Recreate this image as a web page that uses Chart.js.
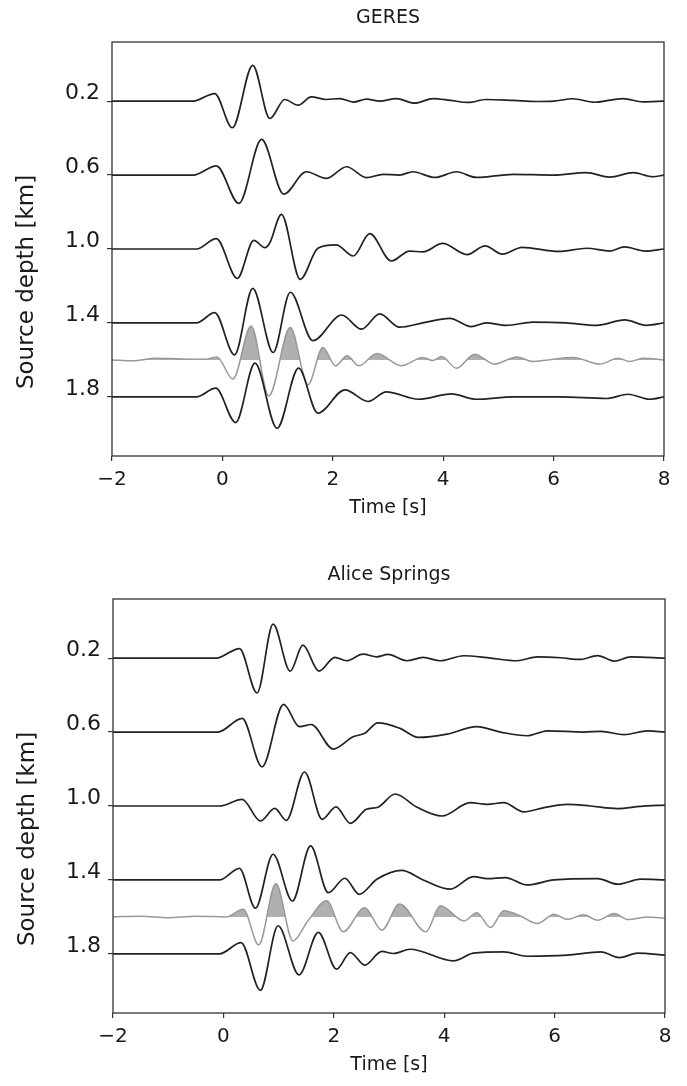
<!DOCTYPE html>
<html>
<head>
<meta charset="utf-8">
<script src="https://cdn.jsdelivr.net/npm/chart.js@4.4.0/dist/chart.umd.min.js"></script>
<style>
  body { margin: 0; background: #fff; }
  canvas { position: absolute; }
</style>
</head>
<body>
<canvas id="geres-chart" width="687" height="529" style="left:0;top:0;width:687px;height:529px"></canvas>
<canvas id="alice-chart" width="687" height="529" style="left:1px;top:557px;width:687px;height:529px"></canvas>
<script>
// tick labels
const depthTicks = [0.2, 0.6, 1.0, 1.4, 1.8];
const timeTicks = [-2, 0, 2, 4, 6, 8];

// each trace: [time s, amplitude] pairs, amplitude in km above the trace depth
// GERES
const geres02 = [[-2,0],[-0.53,0],[-0.14,0.041],[0.18,-0.144],[0.55,0.194],[0.86,-0.094],[1.13,0.009],[1.37,-0.022],[1.61,0.023],[1.88,0.009],[2.13,0.014],[2.37,-0.005],[2.61,0.011],[2.85,0],[3.15,0.014],[3.48,-0.011],[3.82,0.014],[4.13,0.004],[4.45,-0.007],[4.78,0.009],[5.27,0.004],[5.69,-0.002],[6.0,0],[6.35,0.013],[6.74,-0.006],[7.26,0.014],[7.62,-0.004],[8,0]];
const geres06 = [[-2,0],[-0.53,0],[-0.11,0.050],[0.30,-0.153],[0.71,0.193],[1.11,-0.103],[1.52,0.018],[1.88,-0.018],[2.25,0.045],[2.61,-0.014],[2.91,0.004],[3.21,0],[3.45,0.018],[3.85,-0.013],[4.24,0.018],[4.60,-0.013],[5.27,0.004],[5.99,0],[6.59,0.013],[7.02,-0.011],[7.44,0.013],[7.80,-0.009],[8,0]];
const geres10 = [[-2,0],[-0.47,0],[-0.11,0.056],[0.27,-0.159],[0.57,0.047],[0.77,0.007],[0.86,0.034],[1.07,0.187],[1.41,-0.164],[1.73,0.004],[2.06,0.022],[2.37,-0.038],[2.67,0.083],[3.06,-0.065],[3.39,-0.011],[3.63,-0.016],[3.99,0.030],[4.43,-0.030],[4.76,0.017],[5.07,-0.028],[5.43,0.009],[6.09,-0.013],[6.6,0.004],[7.02,-0.011],[7.28,0.011],[7.66,-0.011],[8,0]];
const geres14 = [[-2,0],[-0.47,0],[-0.14,0.056],[0.22,-0.173],[0.55,0.187],[0.92,-0.160],[1.23,0.166],[1.64,-0.096],[2.16,0.043],[2.52,-0.034],[2.85,0.049],[3.21,-0.023],[3.63,0],[4.12,0.025],[4.51,-0.020],[4.78,0],[5.14,-0.013],[5.63,0.004],[6.23,0],[6.78,-0.013],[7.29,0.016],[7.68,-0.013],[8,0]];
const geres16 = [[-2,0],[-1.62,-0.005],[-1.2,0.009],[-0.75,0.005],[-0.29,0.004],[-0.10,0.016],[0.19,-0.104],[0.52,0.184],[0.84,-0.195],[1.23,0.175],[1.55,-0.135],[1.82,0.067],[2.05,-0.032],[2.26,0.022],[2.47,-0.032],[2.80,0.034],[3.24,-0.032],[3.63,0.013],[3.81,-0.003],[3.97,0.018],[4.24,-0.045],[4.57,0.031],[4.93,-0.023],[5.33,0.016],[5.63,-0.009],[5.90,0],[6.35,0.013],[6.84,-0.023],[7.17,0.009],[7.38,-0.009],[7.62,0.009],[8,0]];
const geres18 = [[-2,0],[-0.47,0],[-0.12,0.047],[0.24,-0.139],[0.59,0.182],[0.99,-0.170],[1.38,0.155],[1.73,-0.088],[2.22,0.038],[2.64,-0.025],[2.97,0.027],[3.55,-0.013],[4.15,0.016],[4.60,-0.013],[5.27,0],[6.11,0],[6.96,-0.009],[7.35,0.014],[7.74,-0.013],[8,0]];

// Alice Springs
const alice02 = [[-2,0],[-0.13,0],[0.29,0.052],[0.61,-0.188],[0.90,0.184],[1.21,-0.070],[1.44,0.070],[1.73,-0.070],[2.02,0.004],[2.23,-0.014],[2.53,0.022],[2.78,0.007],[2.98,0.020],[3.32,-0.014],[3.62,0.004],[3.93,-0.014],[4.35,0.013],[4.84,0],[5.32,-0.014],[5.69,0.007],[6.11,0.002],[6.47,-0.007],[6.78,0.014],[7.08,-0.016],[7.38,0.007],[8,0]];
const alice06 = [[-2,0],[-0.10,0],[0.34,0.074],[0.70,-0.188],[1.09,0.150],[1.38,0.029],[1.59,0.041],[1.99,-0.092],[2.35,-0.025],[2.56,-0.007],[2.80,0.050],[3.2,0.020],[3.53,-0.029],[4.05,-0.011],[4.59,0.029],[5.02,0],[5.50,-0.020],[5.87,0.007],[6.53,0],[6.84,0.004],[7.26,-0.014],[7.69,0.007],[8,0]];
const alice10 = [[-2,0],[-0.07,0],[0.34,0.036],[0.67,-0.081],[0.93,-0.013],[1.14,-0.078],[1.47,0.184],[1.79,-0.072],[2.04,-0.005],[2.30,-0.094],[2.59,-0.018],[2.81,-0.005],[3.11,0.065],[3.50,-0.005],[3.96,-0.054],[4.47,0.018],[4.78,0.009],[5.08,0.018],[5.44,-0.032],[5.81,-0.009],[6.23,0.009],[6.65,0],[7.14,-0.014],[7.56,-0.002],[8,0.005]];
const alice14 = [[-2,0],[-0.07,0],[0.29,0.063],[0.58,-0.153],[0.90,0.139],[1.25,-0.114],[1.58,0.184],[1.90,-0.069],[2.20,0.009],[2.46,-0.078],[2.78,0.004],[3.23,0.052],[3.62,0],[4.11,-0.050],[4.53,0.018],[4.78,0.007],[5.11,0.013],[5.50,-0.027],[5.99,0],[6.78,0.007],[7.14,-0.023],[7.56,0.004],[8,0]];
const alice16 = [[-2,0],[-1.5,0.004],[-1.0,-0.004],[-0.5,0.003],[0.05,0],[0.36,0.041],[0.64,-0.152],[0.95,0.181],[1.26,-0.130],[1.53,-0.022],[1.87,0.087],[2.17,-0.080],[2.56,0.050],[2.87,-0.072],[3.19,0.070],[3.67,-0.081],[3.93,0.060],[4.36,-0.022],[4.59,0.023],[4.84,-0.058],[5.08,0.033],[5.38,0.005],[5.69,-0.036],[5.99,0.014],[6.23,-0.013],[6.53,0.011],[6.78,-0.018],[7.08,0.018],[7.33,-0.014],[7.69,0],[8,-0.007]];
const alice18 = [[-2,0],[-0.07,0],[0.32,0.061],[0.67,-0.197],[0.99,0.152],[1.37,-0.114],[1.72,0.116],[2.05,-0.083],[2.30,0.007],[2.56,-0.061],[2.87,0.013],[3.08,0.002],[3.38,0.025],[4.17,-0.038],[4.53,0.004],[5.08,0.011],[5.50,-0.013],[6.23,-0.007],[6.84,0.011],[7.17,-0.020],[7.51,0.004],[8,-0.007]];

const refDepth = 1.6;

Chart.defaults.font.family = "'DejaVu Sans', sans-serif";
Chart.defaults.color = '#1a1a1a';

function trace(pairs, depth, isRef) {
    return {
        data: pairs.map(p => ({ x: p[0], y: depth - p[1] })),
        borderColor: isRef ? '#999' : '#222',
        backgroundColor: '#b0b0b0',
        borderWidth: isRef ? 1.5 : 1.7,
        pointRadius: 0,
        cubicInterpolationMode: 'monotone',
        fill: isRef ? { target: { value: depth }, above: '#b0b0b0', below: 'rgba(0,0,0,0)' } : false
    };
}

// frame round the plot and the rotated y label
const framePlugin = {
    id: 'frame',
    afterDraw(chart) {
        const { ctx, chartArea: a } = chart;
        ctx.save();
        ctx.strokeStyle = '#333';
        ctx.lineWidth = 1.3;
        ctx.strokeRect(a.left, a.top, a.right - a.left, a.bottom - a.top);
        ctx.fillStyle = '#1a1a1a';
        ctx.font = "23px 'DejaVu Sans'";
        ctx.translate(27, (a.top + a.bottom) / 2 + 33);
        ctx.rotate(-Math.PI / 2);
        ctx.textAlign = 'center';
        ctx.textBaseline = 'middle';
        ctx.fillText('Source depth [km]', 0, 0);
        ctx.restore();
    }
};

function buildConfig(name, lines, ref) {
    const datasets = lines.map((pairs, i) => trace(pairs, depthTicks[i], false));
    datasets.push(trace(ref, refDepth, true));
    return {
        type: 'line',
        data: { datasets: datasets },
        plugins: [framePlugin],
        options: {
            responsive: false,
            animation: false,
            layout: { padding: { left: 0, right: 23, top: 0, bottom: 0 } },
            plugins: {
                legend: { display: false },
                tooltip: { enabled: false },
                title: {
                    display: true,
                    fullSize: false,
                    text: name,
                    font: { size: 19, weight: 'normal' },
                    padding: { top: 6.6, bottom: 12.6 }
                }
            },
            scales: {
                x: {
                    type: 'linear',
                    min: -2,
                    max: 8,
                    afterBuildTicks: s => { s.ticks = timeTicks.map(v => ({ value: v })); },
                    afterFit: s => { s.height = 73; },
                    border: { display: false },
                    grid: { drawOnChartArea: false, tickLength: 5, color: '#333', lineWidth: 1.2 },
                    ticks: {
                        padding: 7,
                        maxRotation: 0,
                        autoSkip: false,
                        font: { size: 20 },
                        callback: v => String(v).replace('-', '\u2212')
                    },
                    title: {
                        display: true,
                        text: 'Time [s]',
                        font: { size: 19 },
                        padding: { top: 0, bottom: 10 }
                    }
                },
                y: {
                    type: 'linear',
                    reverse: true,
                    min: -0.12,
                    max: 2.12,
                    afterBuildTicks: s => { s.ticks = depthTicks.map(v => ({ value: v })); },
                    afterFit: s => { s.width = 112; },
                    border: { display: false },
                    grid: { drawOnChartArea: false, tickLength: 5, color: '#333', lineWidth: 1.2 },
                    ticks: {
                        padding: 7,
                        labelOffset: -8,
                        font: { size: 22 },
                        callback: v => v.toFixed(1)
                    }
                }
            }
        }
    };
}

new Chart(document.getElementById('geres-chart').getContext('2d'),
    buildConfig('GERES', [geres02, geres06, geres10, geres14, geres18], geres16));
new Chart(document.getElementById('alice-chart').getContext('2d'),
    buildConfig('Alice Springs', [alice02, alice06, alice10, alice14, alice18], alice16));
</script>
</body>
</html>
